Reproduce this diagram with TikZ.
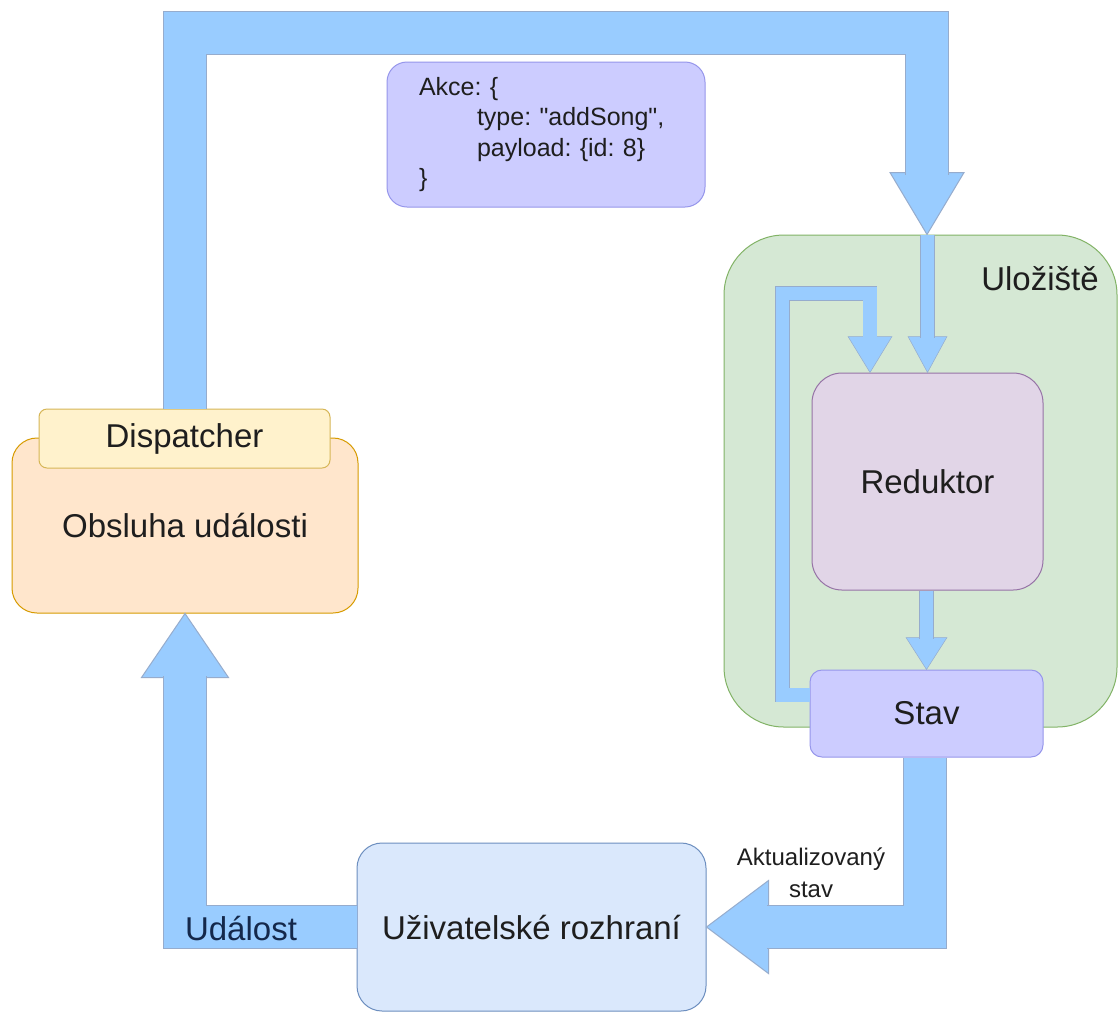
\documentclass[tikz,border=0pt]{standalone}
\usepackage{fontspec}
\setmainfont{Liberation Sans}
\usetikzlibrary{calc}
\frenchspacing
\definecolor{arrF}{RGB}{153,204,255}
\definecolor{arrB}{RGB}{150,172,205}
\definecolor{obsF}{RGB}{255,230,204}
\definecolor{obsB}{RGB}{215,155,0}
\definecolor{dispF}{RGB}{255,242,204}
\definecolor{dispB}{RGB}{214,182,86}
\definecolor{stoF}{RGB}{213,232,212}
\definecolor{stoB}{RGB}{130,179,102}
\definecolor{redF}{RGB}{225,213,231}
\definecolor{redB}{RGB}{150,115,166}
\definecolor{lavF}{RGB}{204,204,255}
\definecolor{lavB}{RGB}{150,150,235}
\definecolor{uiF}{RGB}{218,232,252}
\definecolor{uiB}{RGB}{108,142,191}
\definecolor{txt}{RGB}{30,30,30}
\definecolor{udTxt}{RGB}{20,40,75}
\tikzset{
  box/.style={draw, line width=1pt, inner sep=0pt, text=txt,
    font=\fontsize{33}{40}\selectfont},
  bigshaft/.style={draw=arrB, line width=1pt, double=arrF, double distance=42pt, line join=miter},
  bighead/.style={fill=arrF, draw=arrB, line width=1pt, line join=miter},
  smallshaft/.style={draw=arrB, line width=0.5pt, double=arrF, double distance=13.5pt, line join=miter},
  smallhead/.style={fill=arrF, draw=arrB, line width=0.5pt, line join=miter},
  lbl/.style={inner sep=0pt, text=txt},
}
\newcommand{\sq}{\XeTeXglyph\XeTeXcharglyph"22\relax}
\begin{document}
\begin{tikzpicture}[x=1pt,y=-1pt]
\useasboundingbox (0,0) rectangle (1118,1013);
\fill[white] (0,0) rectangle (1118,1013);

% boxes
\node[box, fill=stoF, draw=stoB, rounded corners=60pt, minimum width=393pt, minimum height=492pt] (store) at (920.5,481) {};
\node[lbl, anchor=base, font=\fontsize{33}{40}\selectfont] (storeLbl) at (1040,290) {Uložiště};
\node[box, fill=redF, draw=redB, rounded corners=30pt, minimum width=231pt, minimum height=217pt] (red) at (927.5,481.5) {Reduktor};
\node[box, fill=lavF, draw=lavB, rounded corners=12pt, minimum width=233pt, minimum height=87pt] (stav) at (926.5,713.5) {Stav};
\node[box, fill=obsF, draw=obsB, rounded corners=25pt, minimum width=346pt, minimum height=175pt] (obs) at (185,525.5) {Obsluha události};
\node[box, fill=dispF, draw=dispB, rounded corners=8pt, minimum width=291pt, minimum height=59pt] (disp) at (184.5,438.5) {Dispatcher};
\node[box, fill=uiF, draw=uiB, rounded corners=25pt, minimum width=349pt, minimum height=168pt] (ui) at (531.5,927) {Uživatelské rozhraní};
\node[box, fill=lavF, draw=lavB, rounded corners=20pt, minimum width=318pt, minimum height=145pt,
  align=left, text width=254pt, font=\fontsize{25}{30.5}\selectfont] (akce) at (546,134.5)
  {\raisebox{0pt}[0pt][0pt]{}Akce: \{\\\hspace*{58pt}type: \sq addSong\sq,\\\hspace*{58pt}payload: \{id: 8\}\\\}};

% Dispatcher -> store (big)
\coordinate (tTip) at ($(store.north)+(6.5,0)$);
\path[bighead] (tTip) -- ++(-37,-62) -- ++(74,0) -- cycle;
\draw[bigshaft] (disp.north) |- ($(tTip)+(0,-201.5)$) -- ($(tTip)+(0,-60)$);

% store top -> Reduktor (thin)
\path[smallhead] (red.north) -- ++(-19.5,-36) -- ++(39,0) -- cycle;
\draw[smallshaft] (red.north |- store.north) -- ($(red.north)+(0,-34.5)$);

% loop Stav -> Reduktor
\coordinate (lTip) at ($(red.north)+(-57.5,0)$);
\path[smallhead] (lTip) -- ++(-22,-36) -- ++(44,0) -- cycle;
\draw[smallshaft] ($(stav.west)+(0,-18.5)$) -- ++(-27,0) |- ($(lTip)+(0,-79)$) -- ($(lTip)+(0,-34.5)$);

% Reduktor -> Stav
\path[smallhead] (stav.north) -- ++(-20.5,-32) -- ++(41,0) -- cycle;
\draw[smallshaft] (stav.north |- red.south) -- ($(stav.north)+(0,-30.5)$);

% Stav -> UI (big)
\path[bighead] (ui.east) -- ++(62,-46.5) -- ++(0,93) -- cycle;
\draw[bigshaft] ($(stav.south)+(-2,0)$) |- ($(ui.east)+(60,0)$);
\node[lbl, align=center, font=\fontsize{24}{32}\selectfont] (aktLbl) at (811,873) {Aktualizovaný\\stav};

% UI -> Obsluha (big)
\path[bighead] (obs.south) -- ++(-43.5,64) -- ++(87,0) -- cycle;
\draw[bigshaft] (ui.west) -| ($(obs.south)+(0,62)$);
\node[lbl, font=\fontsize{33}{40}\selectfont, text=udTxt] (udLbl) at (241,928) {Událost};
\end{tikzpicture}
\end{document}
